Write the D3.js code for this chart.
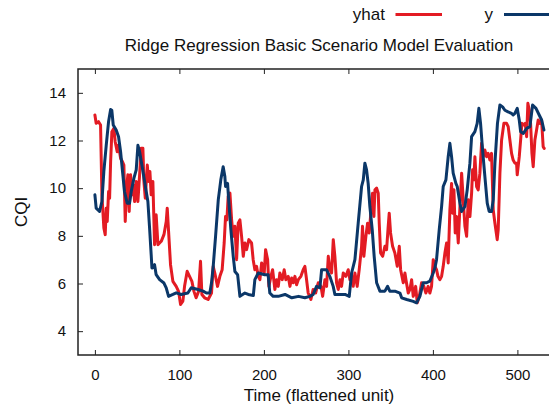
<!DOCTYPE html>
<html>
<head>
<meta charset="utf-8">
<script src="https://cdn.jsdelivr.net/npm/d3@7"></script>
<style>
  html, body { margin: 0; padding: 0; background: #fff; }
  svg { display: block; font-family: "Liberation Sans", Arial, Helvetica, sans-serif; }
</style>
</head>
<body>
<svg id="chart" width="549" height="412"></svg>
<script>
// Observed CQI (y): time index and value
const yTime = [0,1.5,5.5,8.3,10.6,13.4,16.2,18.6,20,21.7,25.2,28,30.4,32.7,35,38.2,41,43,46.2,48.9,50.9,52.9,55.6,58.8,62.7,64.7,66.6,67.5,70.6,72.5,76.6,81.7,84.4,87.2,92.3,96.3,102,110,114,122,128,132,136,138,140,142.8,146,149,151.8,153.8,154.6,157,158.6,160.9,163.7,165.7,168.9,171.6,177.5,181.5,187.5,189.3,193.3,201,205,207,211,217,225,233,241,248.5,254.4,258.3,262.3,266.3,268.3,274,278,282,284,290,296,301,303.8,307.7,311.6,315.6,317.6,319.5,321.5,323.4,325.4,328.2,330.5,333.4,337.3,343.2,346.4,349,355,361,363,369,376.7,380.7,384.6,388.5,392.5,396.4,400.4,402.4,404.3,407.5,410.3,412.2,415.4,418.1,420.1,422.1,424,427.2,428.8,432,434,437.9,440.6,443.8,445.8,449.7,452.4,454.4,456.4,458.8,461.5,464.3,466.6,469.4,471.4,473.4,476.4,479.3,482.5,485.2,489,493,495,497,499.8,502.2,503.8,507,511,514.8,518,522,525.8,528.7,531.4];
const yValues = [9.72,9.16,9.02,9.44,10.7,11.8,12.8,13.3,13.27,12.65,12.44,12.16,11.53,10.7,9.86,9.37,9.37,9.86,10.42,10.77,11.8,11.53,10.97,10.28,9.44,8.33,7.21,6.65,6.79,6.37,6.16,6.02,5.82,5.46,5.54,5.61,5.54,5.6,5.82,5.75,5.68,5.6,5.6,6.03,6.72,7.98,9.51,10.35,10.9,10.49,10.07,10.2,9.37,8.26,7.14,6.5,6.37,5.46,5.6,5.54,5.5,6.16,6.44,6.37,6.37,5.6,5.46,5.46,5.54,5.4,5.46,5.4,5.46,5.54,5.88,5.82,6.58,6.58,6.3,5.88,5.54,5.54,5.54,5.46,6.44,7,8.53,10.07,10.35,11.05,10.77,10.2,9.23,8.26,7.14,6.03,5.68,5.68,5.88,5.68,5.68,5.6,5.4,5.33,5.25,5.19,5.46,6.03,6.03,6.1,6.44,6.65,7.0,8.26,9.23,10.07,10.35,11.32,11.88,11.32,10.63,10.2,10.07,9.37,9.02,9.23,9.93,11.05,12.16,12.37,12.72,13.35,12.72,11.6,10.49,9.37,9.02,9.02,9.51,11.05,12.72,13.49,13.41,13.27,13.2,13.14,13.07,13.14,13.35,12.86,12.37,12.3,12.51,12.58,13.49,13.35,13.07,12.86,12.44];

// Ridge regression prediction (yhat): time index and value
const yhatTime = [0,1.5,4.3,6.7,8.3,10.6,12.2,13.4,14.6,16.2,17.4,18.6,20.1,22.5,24,26.4,28,30.4,32.7,34.3,35.9,37.5,39,40.6,42.2,43.8,45.3,47,48.9,50.9,52.9,54.8,56.8,58,59.6,62,63.6,65.1,66.6,68.6,70.6,72.5,74.6,78.5,81.7,84.4,85.6,87.2,89.5,92.3,96.2,99,101.4,104.1,106.1,109.2,112,114.8,117.2,119.8,122.7,125,126.6,129.8,134,138,140,141.9,145.1,147.9,150.6,153,154.6,156.2,157.7,159.8,161.8,163.7,165.7,167.7,169.6,171.6,173.6,175.6,177.5,179.5,182.2,185.4,187.3,189.3,191.3,193.3,195.3,197.3,200.4,202,204.4,205.9,208.3,210.3,213,215,217,218.9,221.7,224,226,228.8,230.8,232.8,234.7,236.7,238.7,240.7,243.8,246.5,248.5,250.5,252.4,255.6,258.3,261.2,264.3,267.5,269.5,272.2,274.2,276.2,278.1,280.1,282.1,284,286,288,290,291.9,293.9,297,299.8,301.8,304.1,305.7,307.7,310.4,312.8,314.4,315.6,316.7,318.3,320.7,322.7,324.6,326.2,327.4,328.6,330.2,331.4,333.4,335.3,336.5,338.1,340.5,343.2,345.2,347.1,348.3,349.9,352.3,355,357.8,360.2,361.8,364.9,366.9,368.1,370.8,372.8,374.8,376.7,379.6,381.5,383.9,386.6,389.3,391.7,394.4,396.4,398.4,400.4,402.4,404.3,406,408.3,410.3,412.2,414.2,416.2,418.1,420.1,422.1,423.3,424.9,426.4,428,430,432,434,435.9,437.9,439.9,441.8,443.8,445.8,447,448.5,449.7,451.7,453.6,455.6,457.6,459.5,461.5,463.5,465.4,467.5,469.4,471.4,473.4,476.1,477.3,479.3,481.3,484,487.2,489.1,491.1,493.1,495,497,499,499.8,502.2,503.8,505.3,507.7,509.2,510.9,512.4,514,515.6,517.2,518.7,520.7,522.7,524.6,526.6,528.6,530.5,531.7];
const yhatValues = [13.07,12.72,12.79,12.65,9.72,8.33,8.05,9.16,8.6,9.86,9.58,11.11,12.37,12.51,11.95,11.53,11.81,11.25,11.11,10.97,8.6,10,10.56,9.02,10.56,9.72,10.14,9.44,10.28,9.44,10.56,11.67,11.67,10.28,9.58,10.97,10.28,10.7,9.72,10.28,7.63,8.88,7.63,7.77,8.05,8.6,9.16,8.19,6.79,6.09,5.88,5.67,5.12,5.26,5.88,6.51,6.3,6.09,5.67,5.4,5.67,6.93,5.54,5.4,5.33,5.6,6.72,6.44,5.88,6.3,6.58,7.7,8.81,8.67,9.65,9.79,8.67,7.98,8.4,7,8.53,8.67,7.98,7.14,7.7,7.42,7.84,7.7,7,6.58,6.72,6.3,6.16,6.86,6.44,7.42,7.0,5.88,6.3,6.58,5.75,6.16,5.88,6.44,6.16,6.58,6.16,6.3,5.88,6.23,6.03,6.3,5.95,6.16,6.3,6.58,6.72,6.16,5.6,5.33,5.75,5.6,6.03,5.88,5.46,6.16,5.88,7.14,6.58,6.44,7.84,7.14,6.03,5.75,6.16,5.88,6.44,6.3,6.58,6.16,6.3,5.88,6.44,5.88,6.58,7.14,7.56,8.4,7.14,7.98,8.53,8.12,8.81,9.37,9.79,8.81,9.93,10,9.79,8.53,7.28,7.14,7.56,7.42,8.4,8.95,8.12,7.56,7.28,6.72,7.56,6.58,6.03,6.44,6.16,5.6,5.75,6.16,5.46,5.88,5.19,5.46,6.03,5.88,5.6,5.88,5.6,5.88,7,6.72,6.58,6.3,6.16,6.3,6.72,7.28,7.7,6.86,9.09,10.2,8.95,9.93,8.12,8.81,7.7,9.23,10.63,9.51,8.4,7.98,9.51,8.81,9.79,10.77,10.35,11.32,10.07,9.93,10.63,11.88,11.32,11.6,11.32,11.46,11.18,11.46,9.09,8.53,7.84,8.26,10.63,12.02,12.72,12.72,12.58,12.02,11.46,11.18,11.05,11.05,10.56,11.32,12.02,12.72,12.65,12.72,12.16,13.56,13.28,12.72,11.46,10.9,12.02,12.44,12.86,12.72,12.86,11.74,11.67];

const xTicks = [0, 100, 200, 300, 400, 500];
const yTicks = [4, 6, 8, 10, 12, 14];

const titleText = "Ridge Regression Basic Scenario Model Evaluation";
const xLabel = "Time (flattened unit)";
const yLabel = "CQI";
const seriesNames = ["yhat", "y"];
const seriesColors = ["#e31b23", "#0b3768"];

const svg = d3.select("#chart");
const frame = { left: 78, right: 551.2, top: 69, bottom: 355 };

const x = d3.scaleLinear().domain([-20, 540]).range([frame.left, frame.right]);
const y = d3.scaleLinear().domain([3, 15]).range([frame.bottom, frame.top]);

const textColor = "#111";
const tickFontSize = 15;
const labelFontSize = 17;

// Series lines (prediction first, observation on top)
const line = d3.line().x(d => x(d[0])).y(d => y(d[1]));
const series = [
  d3.zip(yhatTime, yhatValues),
  d3.zip(yTime, yValues)
];
svg.append("g").selectAll("path")
  .data(series)
  .join("path")
  .attr("d", line)
  .attr("fill", "none")
  .attr("stroke", (d, i) => seriesColors[i])
  .attr("stroke-width", 3)
  .attr("stroke-linejoin", "round")
  .attr("stroke-linecap", "round");

// Axes with inward ticks
function styleAxis(g) {
  g.select(".domain").remove();
  g.selectAll(".tick line").attr("stroke", "#222").attr("stroke-width", 1);
  g.selectAll(".tick text").attr("fill", textColor).style("font-size", tickFontSize + "px");
}

svg.append("g")
  .attr("transform", `translate(0,${frame.bottom})`)
  .call(d3.axisBottom(x).tickValues(xTicks).tickSizeInner(-5).tickSizeOuter(0).tickPadding(14))
  .call(styleAxis);

svg.append("g")
  .attr("transform", `translate(0,${frame.top})`)
  .call(d3.axisTop(x).tickValues(xTicks).tickSizeInner(-5).tickSizeOuter(0).tickFormat(""))
  .call(styleAxis);

svg.append("g")
  .attr("transform", `translate(${frame.left},0)`)
  .call(d3.axisLeft(y).tickValues(yTicks).tickSizeInner(-5).tickSizeOuter(0).tickPadding(12))
  .call(styleAxis);

// Plot border
svg.append("rect")
  .attr("x", frame.left)
  .attr("y", frame.top)
  .attr("width", frame.right - frame.left)
  .attr("height", frame.bottom - frame.top)
  .attr("fill", "none")
  .attr("stroke", "#222")
  .attr("stroke-width", 1.5);

// Title and axis labels
svg.append("text")
  .attr("x", 319).attr("y", 51)
  .attr("text-anchor", "middle")
  .attr("fill", textColor)
  .style("font-size", labelFontSize + "px")
  .text(titleText);

svg.append("text")
  .attr("x", 319).attr("y", 401)
  .attr("text-anchor", "middle")
  .attr("fill", textColor)
  .style("font-size", labelFontSize + "px")
  .text(xLabel);

svg.append("text")
  .attr("transform", "translate(27,212) rotate(-90)")
  .attr("text-anchor", "middle")
  .attr("fill", textColor)
  .style("font-size", labelFontSize + "px")
  .text(yLabel);

// Legend: label then sample line
const legendItems = [
  { textX: 385, lineX0: 395.5, lineX1: 442 },
  { textX: 493, lineX0: 504, lineX1: 550 }
];
const legend = svg.append("g");
legendItems.forEach((item, i) => {
  legend.append("text")
    .attr("x", item.textX).attr("y", 20)
    .attr("text-anchor", "end")
    .attr("fill", textColor)
    .style("font-size", labelFontSize + "px")
    .text(seriesNames[i]);
  legend.append("line")
    .attr("x1", item.lineX0).attr("x2", item.lineX1)
    .attr("y1", 14.5).attr("y2", 14.5)
    .attr("stroke", seriesColors[i])
    .attr("stroke-width", 3);
});
</script>
</body>
</html>
